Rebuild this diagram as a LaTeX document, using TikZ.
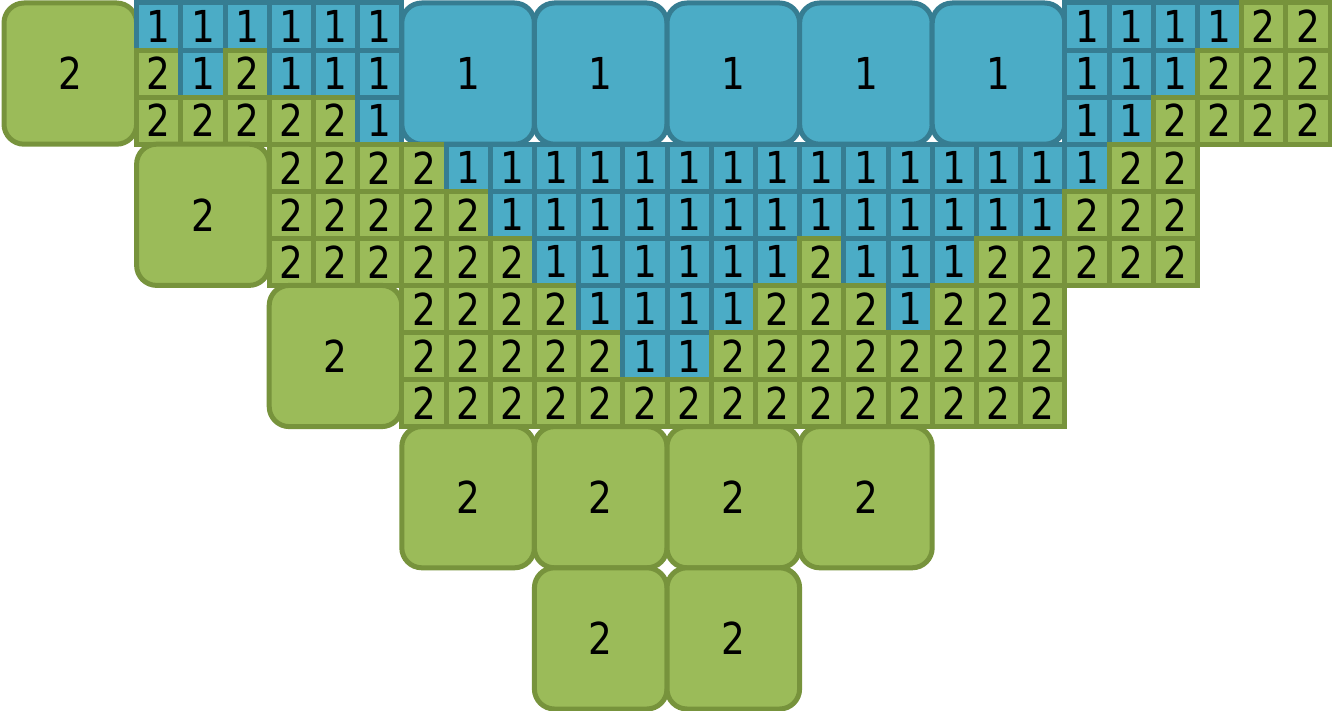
\documentclass[tikz,border=0pt]{standalone}
\usepackage{fontspec}
\newfontfamily\digitfont[FakeStretch=0.85]{DejaVu Sans}
\definecolor{gfill}{HTML}{9BBB59}
\definecolor{gline}{HTML}{77933C}
\definecolor{bfill}{HTML}{4BACC6}
\definecolor{bline}{HTML}{367D92}
\def\PX{4}\def\PY{3}\def\CW{132.6}\def\RH{141.2}
\tikzset{
  cellbase/.style={rectangle,anchor=north west,inner sep=0pt,outer sep=0pt,line width=5pt,
    font=\digitfont\fontsize{44}{44}\selectfont,text=black},
  sc1/.style={cellbase,fill=bfill,draw=bline,minimum width=\CW pt/3,minimum height=\RH pt/3},
  sc2/.style={cellbase,fill=gfill,draw=gline,minimum width=\CW pt/3,minimum height=\RH pt/3},
  bc1/.style={cellbase,fill=bfill,draw=bline,rounded corners=20pt,minimum width=\CW pt,minimum height=\RH pt},
  bc2/.style={cellbase,fill=gfill,draw=gline,rounded corners=20pt,minimum width=\CW pt,minimum height=\RH pt},
}
\newcommand\smallrow[4]{% block col, block row, subrow, list
  \foreach \v [count=\i from 0] in {#4} {
    \pgfmathsetmacro\xa{\PX+\CW*#1+\CW/3*\i}
    \pgfmathsetmacro\ya{\PY+\RH*#2+\RH/3*#3}
    \node[sc\v] (s-#1-#2-#3-\i) at (\xa,\ya) {\v};
  }
}
\newcommand\bigcell[3]{% col, row, type
  \pgfmathsetmacro\xa{\PX+\CW*#1}
  \pgfmathsetmacro\ya{\PY+\RH*#2}
  \node[bc#3] (b-#1-#2) at (\xa,\ya) {#3};
}
\begin{document}
\begin{tikzpicture}[x=1pt,y=-1pt]
\useasboundingbox (0,0) rectangle (1332,711);
% row 0
\bigcell{0}{0}{2}
\smallrow{1}{0}{0}{1,1,1,1,1,1}
\smallrow{1}{0}{1}{2,1,2,1,1,1}
\smallrow{1}{0}{2}{2,2,2,2,2,1}
\foreach \c in {3,...,7} {\bigcell{\c}{0}{1}}
\smallrow{8}{0}{0}{1,1,1,1,2,2}
\smallrow{8}{0}{1}{1,1,1,2,2,2}
\smallrow{8}{0}{2}{1,1,2,2,2,2}
% row 1
\bigcell{1}{1}{2}
\smallrow{2}{1}{0}{2,2,2,2,1,1,1,1,1,1,1,1,1,1,1,1,1,1,1,2,2}
\smallrow{2}{1}{1}{2,2,2,2,2,1,1,1,1,1,1,1,1,1,1,1,1,1,2,2,2}
\smallrow{2}{1}{2}{2,2,2,2,2,2,1,1,1,1,1,1,2,1,1,1,2,2,2,2,2}
% row 2
\bigcell{2}{2}{2}
\smallrow{3}{2}{0}{2,2,2,2,1,1,1,1,2,2,2,1,2,2,2}
\smallrow{3}{2}{1}{2,2,2,2,2,1,1,2,2,2,2,2,2,2,2}
\smallrow{3}{2}{2}{2,2,2,2,2,2,2,2,2,2,2,2,2,2,2}
% row 3
\foreach \c in {3,...,6} {\bigcell{\c}{3}{2}}
% row 4
\foreach \c in {4,5} {\bigcell{\c}{4}{2}}
\end{tikzpicture}
\end{document}
